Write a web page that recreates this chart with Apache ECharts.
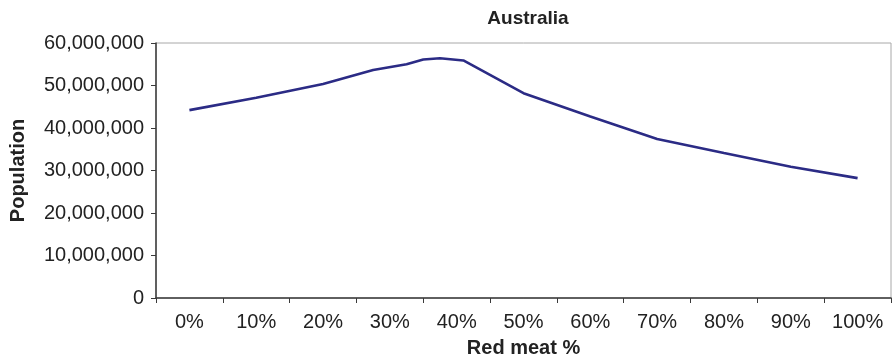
<!DOCTYPE html>
<html>
<head>
<meta charset="utf-8">
<script src="https://cdn.jsdelivr.net/npm/echarts@6/dist/echarts.min.js"></script>
<style>
  html, body { margin: 0; padding: 0; background: #fff; }
  #chart { width: 896px; height: 360px; }
</style>
</head>
<body>
<div id="chart"></div>
<script>
// Category labels along the bottom axis
const categoryLabels = ['0%', '10%', '20%', '30%', '40%', '50%', '60%', '70%', '80%', '90%', '100%'];
// Red meat share (%) of each sampled point
const redMeatPct = [0, 10, 20, 27.5, 32.5, 35, 37.5, 41, 50, 60, 70, 80, 90, 100];
// Population supported at that share
const population = [44200000, 47100000, 50350000, 53650000, 55000000, 56100000, 56400000,
                    55900000, 48200000, 42700000, 37400000, 34100000, 30900000, 28200000];
// Population axis ticks
const yMin = 0, yMax = 60000000, yStep = 10000000;

const FONT = '"Liberation Sans", Arial, Helvetica, sans-serif';
const TEXT = '#222222';

function withCommas(v) {
  return String(v).replace(/\B(?=(\d{3})+(?!\d))/g, ',');
}

const chart = echarts.init(document.getElementById('chart'), null, { renderer: 'canvas' });

chart.setOption({
  animation: false,
  backgroundColor: '#ffffff',
  title: {
    text: 'Australia',
    left: 523,
    top: 4,
    textAlign: 'center',
    textStyle: { fontFamily: FONT, fontSize: 19, fontWeight: 'bold', color: TEXT }
  },
  grid: {
    left: 156, right: 5, top: 43, bottom: 62,
    containLabel: false,
    outerBoundsMode: 'none',
    show: true, borderColor: '#a8a8a8', borderWidth: 1, backgroundColor: 'transparent'
  },
  xAxis: [
    {
      type: 'category',
      data: categoryLabels,
      boundaryGap: true,
      name: 'Red meat %',
      nameLocation: 'middle',
      nameGap: 40,
      nameTextStyle: { fontFamily: FONT, fontSize: 20, fontWeight: 'bold', color: TEXT },
      axisLine: { onZero: false, lineStyle: { color: '#3a3a3a', width: 1.5 } },
      axisTick: { show: true, length: 5, lineStyle: { color: '#3a3a3a' } },
      axisLabel: { fontFamily: FONT, fontSize: 20, color: TEXT, margin: 14, interval: 0 },
      splitLine: { show: false }
    },
    {
      // numeric scale carrying the line's x positions, aligned with the category slots
      type: 'value',
      min: -5,
      max: 105,
      show: false,
      splitLine: { show: false }
    }
  ],
  yAxis: {
    type: 'value',
    min: yMin,
    max: yMax,
    interval: yStep,
    name: 'Population',
    nameLocation: 'middle',
    nameGap: 128,
    nameTextStyle: { fontFamily: FONT, fontSize: 20, fontWeight: 'bold', color: TEXT },
    axisLine: { show: true, onZero: false, lineStyle: { color: '#3a3a3a', width: 1.5 } },
    axisTick: { show: true, length: 5, lineStyle: { color: '#3a3a3a' } },
    axisLabel: { fontFamily: FONT, fontSize: 20, color: TEXT, margin: 12, formatter: withCommas },
    splitLine: { show: false }
  },
  series: [{
    type: 'line',
    xAxisIndex: 1,
    yAxisIndex: 0,
    data: redMeatPct.map((p, i) => [p, population[i]]),
    showSymbol: false,
    symbol: 'none',
    lineStyle: { color: '#2b2b85', width: 2.6 },
    z: 3
  }]
});
</script>
</body>
</html>
